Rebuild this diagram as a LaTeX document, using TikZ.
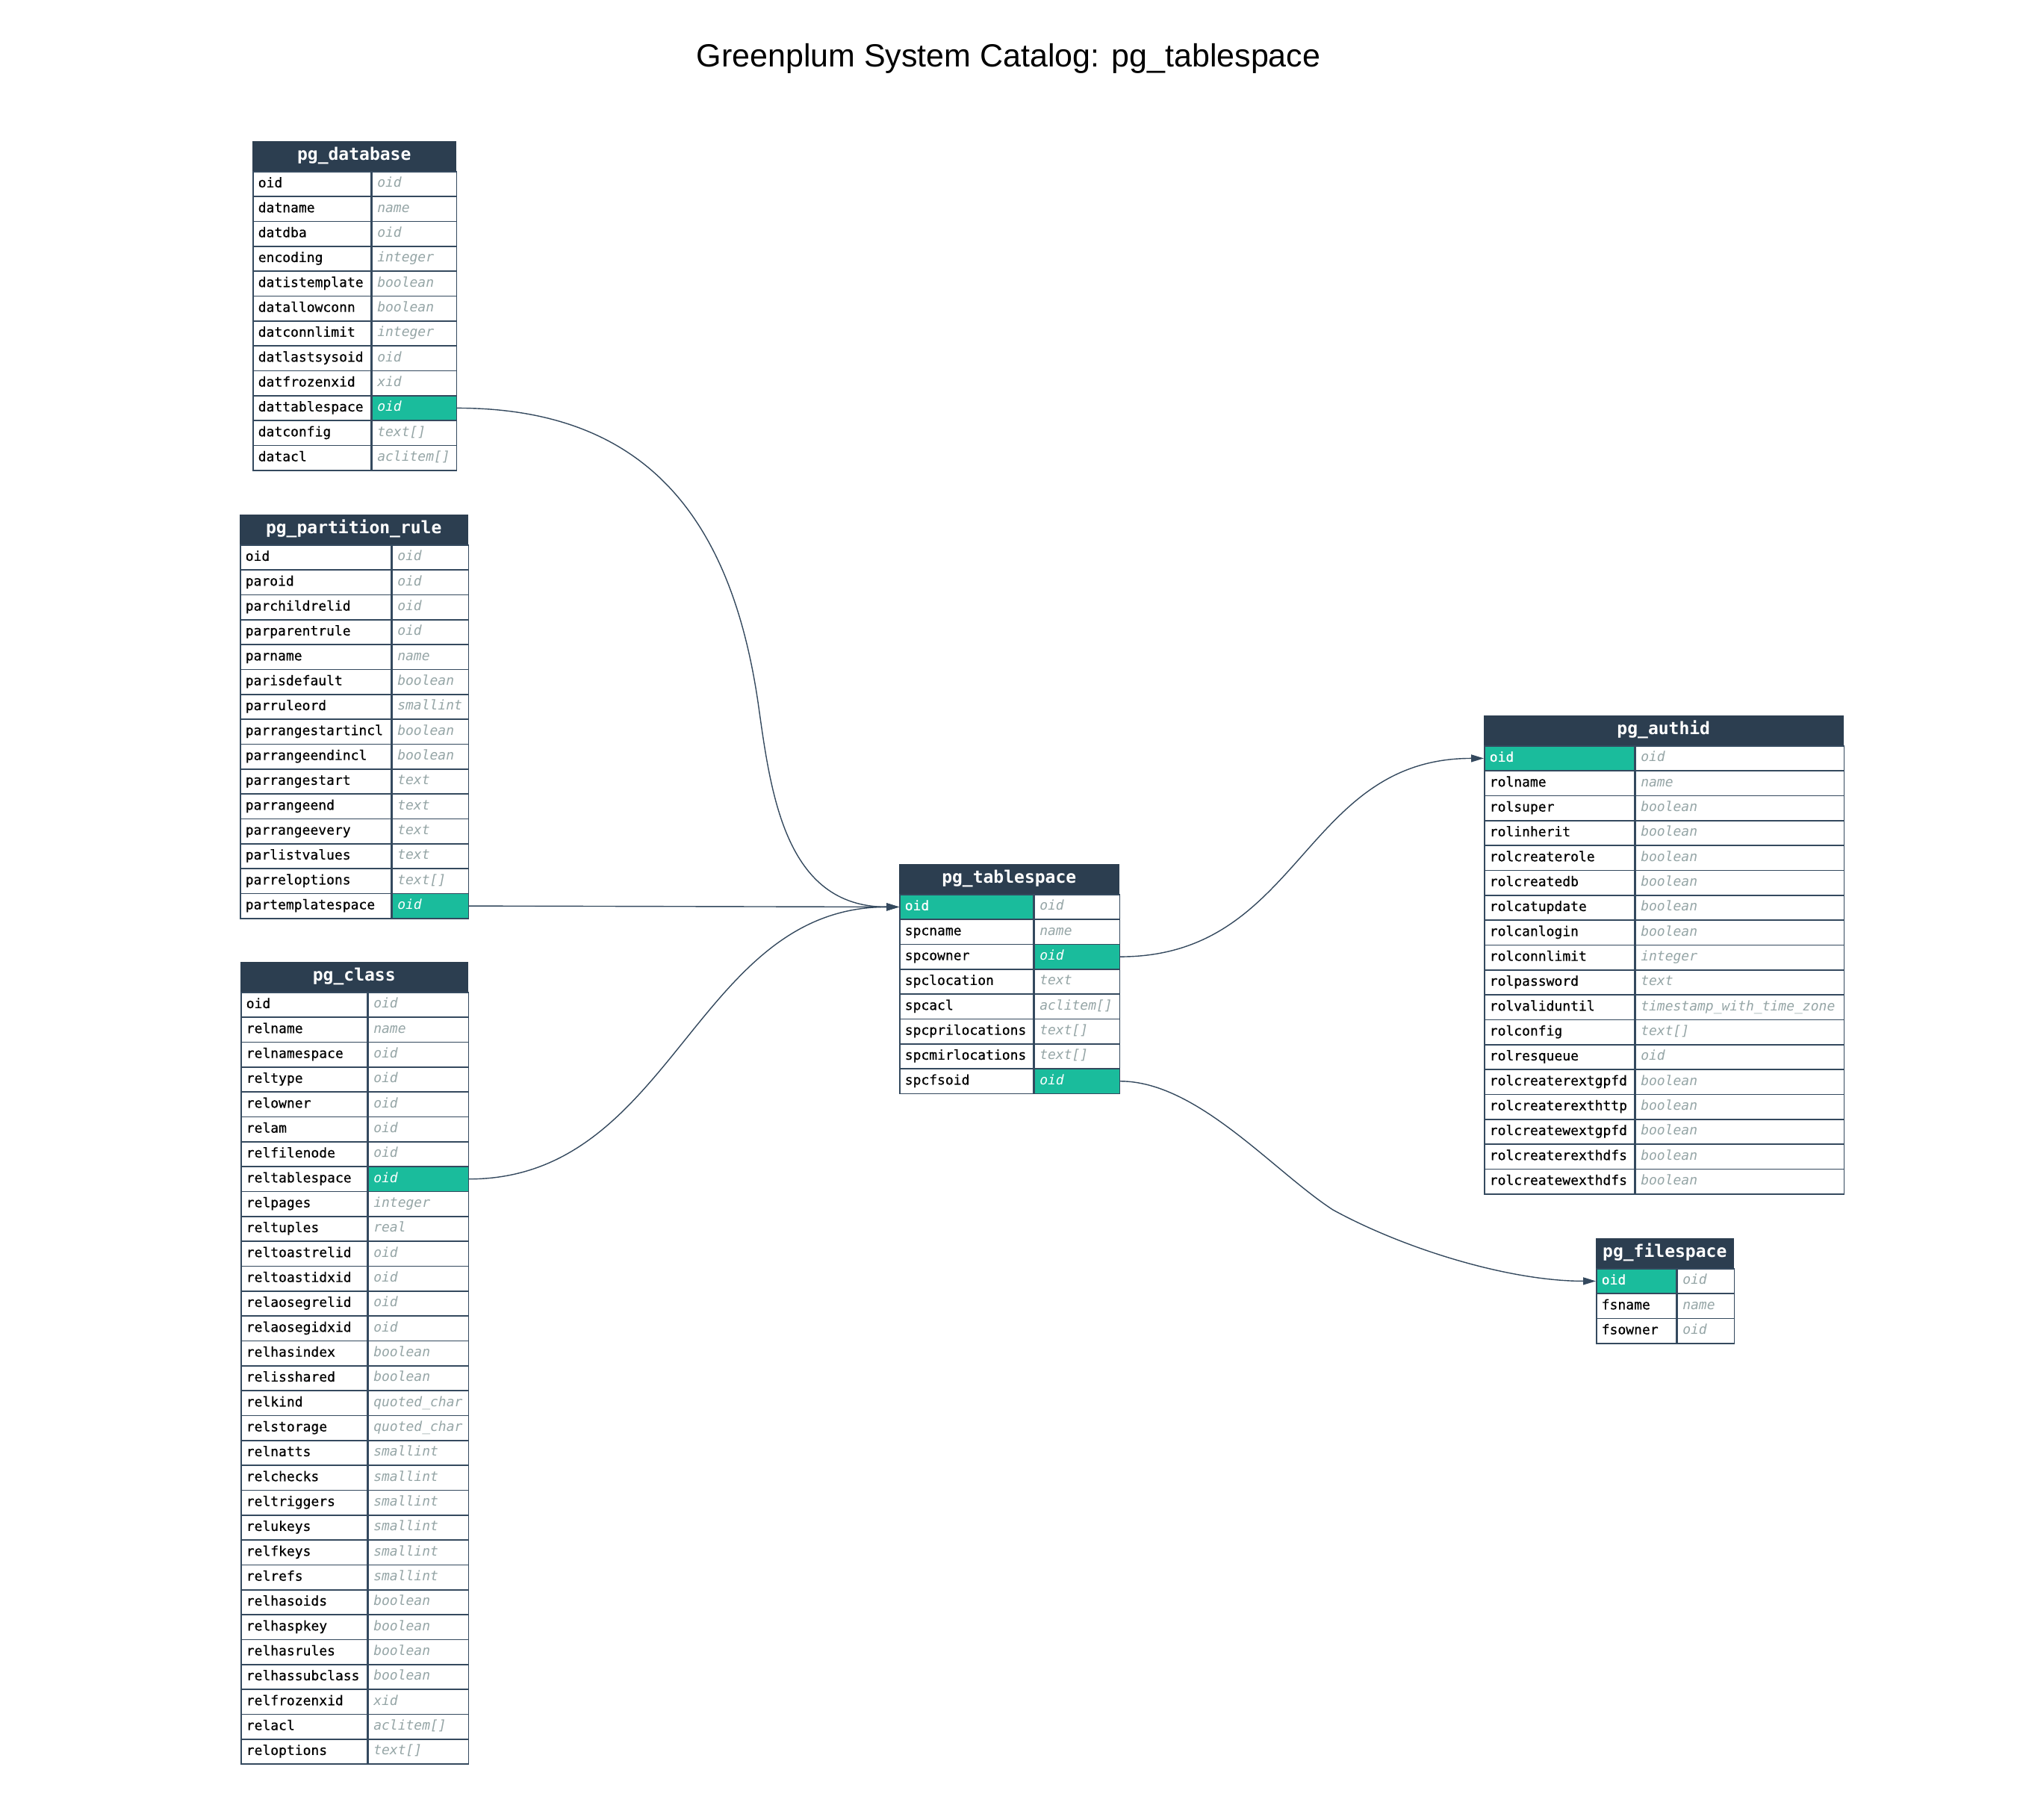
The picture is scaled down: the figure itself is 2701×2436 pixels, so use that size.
\documentclass[tikz,border=0pt]{standalone}
\usepackage{fontspec}
\usepackage{xcolor}
\usetikzlibrary{arrows.meta}
\setmainfont{Liberation Sans}
\newfontfamily\catmono[ItalicFont={DejaVu Sans Mono Oblique}, BoldFont={DejaVu Sans Mono Bold}]{DejaVu Sans Mono}
\newfontfamily\catfield[FakeBold=0.6]{DejaVu Sans Mono}
\definecolor{catdark}{HTML}{2C3E50}
\definecolor{catline}{HTML}{34495E}
\definecolor{catgreen}{HTML}{1ABC9C}
\definecolor{catgray}{HTML}{95A5A6}

% one catalog table: id, x, y, name width, type width, title, rows
\newcommand{\catalogtable}[7]{%
  \pgfmathsetmacro{\headw}{#4+#5}
  \pgfmathsetmacro{\namew}{#4-14}
  \pgfmathsetmacro{\typew}{#5-14}
  \node[tablehead, minimum width=\headw pt] (#1) at (#2,#3) {#6};
  \foreach \fld/\typ/\hi [count=\i from 0] in {#7} {
    \pgfmathsetmacro{\rowy}{#3+40+\i*33.333}
    \ifnum\hi=1 \def\namefill{catgreen}\def\nametext{white}\else\def\namefill{white}\def\nametext{black}\fi
    \ifnum\hi=2 \def\typefill{catgreen}\def\typetext{white}\else\def\typefill{white}\def\typetext{catgray}\fi
    \node[namecell, fill=\namefill, text=\nametext] (#1-\fld) at (#2,\rowy) {\makebox[\namew pt][l]{\fld}};
    \node[typecell, fill=\typefill, text=\typetext] (#1-\fld-t) at (#1-\fld.north east) {\makebox[\typew pt][l]{\typ}};
  }
}

\begin{document}
\begin{tikzpicture}[x=1pt, y=-1pt,
    tablehead/.style={fill=catdark, draw=catdark, line width=1.5pt, text=white, anchor=north west,
      minimum height=40pt, inner sep=0pt, text height=16pt, text depth=6pt,
      font=\catmono\bfseries\fontsize{23}{26}\selectfont},
    namecell/.style={draw=catline, line width=1.5pt, anchor=north west, minimum height=33.333pt,
      inner xsep=7pt, inner ysep=0pt, text height=13pt, text depth=4pt,
      font=\catfield\fontsize{18}{20}\selectfont},
    typecell/.style={namecell, font=\catmono\itshape\fontsize{18}{20}\selectfont},
    link/.style={draw=catline, line width=1.4pt, -{Triangle[length=17pt, width=10pt]}}]
  \fill[white] (0,0) rectangle (2701,2436);
  \useasboundingbox (0,0) rectangle (2701,2436);

  % Title
  \node[anchor=base, font=\fontsize{43}{50}\selectfont] (title) at (1350.5,89) {Greenplum System Catalog: pg\_tablespace};

  % Tables
  \catalogtable{db}{338}{189}{158}{113}{pg\_database}{oid/oid/0, datname/name/0, datdba/oid/0,
    encoding/integer/0, datistemplate/boolean/0, datallowconn/boolean/0, datconnlimit/integer/0,
    datlastsysoid/oid/0, datfrozenxid/xid/0, dattablespace/oid/2, datconfig/text[]/0, datacl/aclitem[]/0}

  \catalogtable{pr}{321}{689}{202}{102}{pg\_partition\_rule}{oid/oid/0, paroid/oid/0, parchildrelid/oid/0,
    parparentrule/oid/0, parname/name/0, parisdefault/boolean/0, parruleord/smallint/0,
    parrangestartincl/boolean/0, parrangeendincl/boolean/0, parrangestart/text/0, parrangeend/text/0,
    parrangeevery/text/0, parlistvalues/text/0, parreloptions/text[]/0, partemplatespace/oid/2}

  \catalogtable{cls}{322}{1288}{169}{134}{pg\_class}{oid/oid/0, relname/name/0, relnamespace/oid/0,
    reltype/oid/0, relowner/oid/0, relam/oid/0, relfilenode/oid/0, reltablespace/oid/2,
    relpages/integer/0, reltuples/real/0, reltoastrelid/oid/0, reltoastidxid/oid/0,
    relaosegrelid/oid/0, relaosegidxid/oid/0, relhasindex/boolean/0, relisshared/boolean/0,
    relkind/quoted\_char/0, relstorage/quoted\_char/0, relnatts/smallint/0, relchecks/smallint/0,
    reltriggers/smallint/0, relukeys/smallint/0, relfkeys/smallint/0, relrefs/smallint/0,
    relhasoids/boolean/0, relhaspkey/boolean/0, relhasrules/boolean/0, relhassubclass/boolean/0,
    relfrozenxid/xid/0, relacl/aclitem[]/0, reloptions/text[]/0}

  \catalogtable{ts}{1204}{1157}{179}{114}{pg\_tablespace}{oid/oid/1, spcname/name/0, spcowner/oid/2,
    spclocation/text/0, spcacl/aclitem[]/0, spcprilocations/text[]/0, spcmirlocations/text[]/0,
    spcfsoid/oid/2}

  \catalogtable{au}{1987}{958}{201}{279}{pg\_authid}{oid/oid/1, rolname/name/0, rolsuper/boolean/0,
    rolinherit/boolean/0, rolcreaterole/boolean/0, rolcreatedb/boolean/0, rolcatupdate/boolean/0,
    rolcanlogin/boolean/0, rolconnlimit/integer/0, rolpassword/text/0,
    rolvaliduntil/timestamp\_with\_time\_zone/0, rolconfig/text[]/0, rolresqueue/oid/0,
    rolcreaterextgpfd/boolean/0, rolcreaterexthttp/boolean/0, rolcreatewextgpfd/boolean/0,
    rolcreaterexthdfs/boolean/0, rolcreatewexthdfs/boolean/0}

  \catalogtable{fs}{2137}{1658}{107}{76}{pg\_filespace}{oid/oid/1, fsname/name/0, fsowner/oid/0}

  % Foreign keys
  \coordinate (bendA) at (1015,940);
  \coordinate (bendB) at (1785,1620);
  \draw[link] (db-dattablespace-t.east) .. controls +(250,0) and +(-37,-250) .. (bendA)
    .. controls +(17,120) and +(-154,0) .. (ts-oid.west);
  \draw[link] (pr-partemplatespace-t.east) -- (ts-oid.west);
  \draw[link] (cls-reltablespace-t.east) .. controls +(274,0) and +(-274,0) .. (ts-oid.west);
  \draw[link] (ts-spcowner-t.east) .. controls +(243,0) and +(-243,0) .. (au-oid.west);
  \draw[link] (ts-spcfsoid-t.east) .. controls +(103,0) and +(-80,-52) .. (bendB)
    .. controls +(95,52) and +(-117,0) .. (fs-oid.west);
\end{tikzpicture}
\end{document}
